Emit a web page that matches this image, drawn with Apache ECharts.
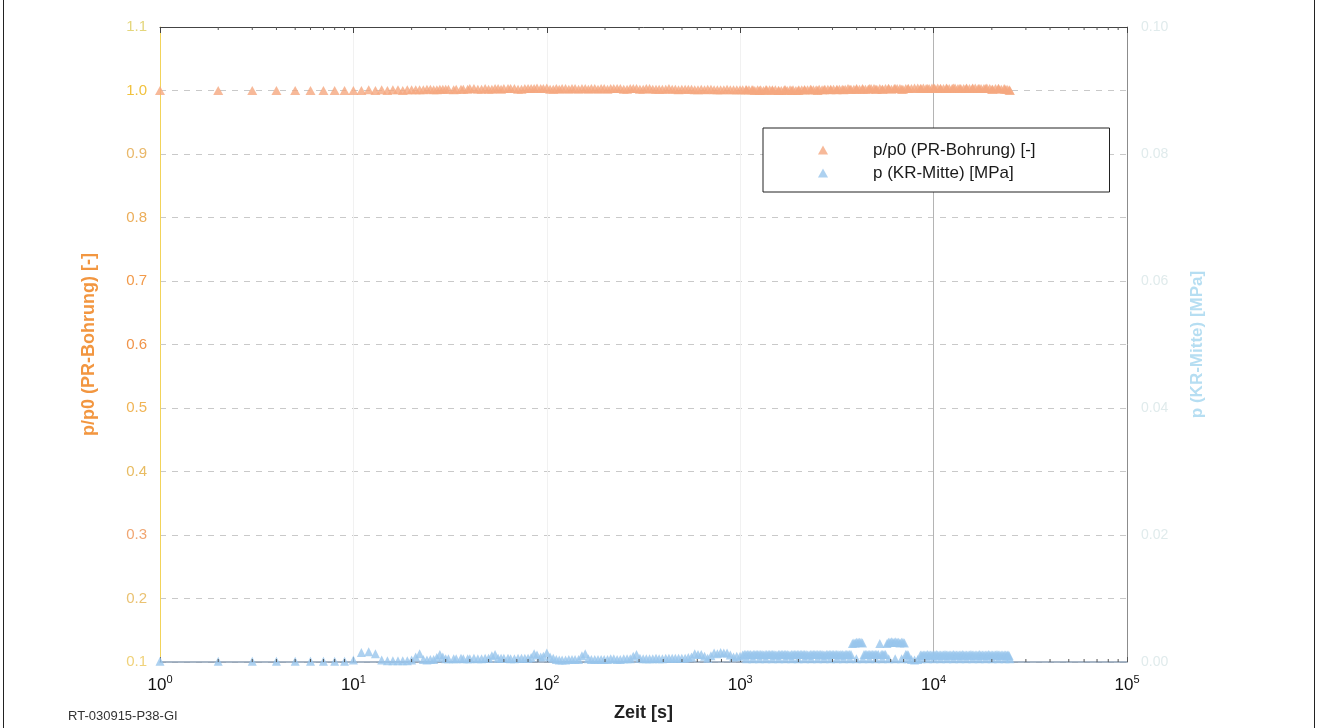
<!DOCTYPE html>
<html>
<head>
<meta charset="utf-8">
<title>p/p0 und p über Zeit</title>
<script src="https://cdn.jsdelivr.net/npm/echarts@6/dist/echarts.min.js"></script>
<style>
  html, body { margin: 0; padding: 0; background: #ffffff; }
  #chart { width: 1319px; height: 728px; }
</style>
</head>
<body>
<div id="chart"></div>
<script>
// Zeitstempel [s], Grundraster der Messung
const zeitA = [1,2,3,4,5,6,7,8,9,10,11,12,13,14,15,16,17,18,19,20,
  22,24,26,28,30,33,36,39,42,46,50,54,58,63,68,74,80,86,93,100,
  108,116,125,135,146,158,170,184,198,214,231,250,270,291,315,340,367,396,
  428,462,499,539,582,629,679,733,792,855,924,998,
  1078,1164,1257,1358,1466,1584,1710,1847,1995,
  2154,2327,2513,2714,2931,3166,3419,3692,3988,
  4307,4651,5023,5425,5859,6328,6834,7381,7971,
  8609,9298,10042,10845,11713,12650,13662,14755,15935,
  17210,18587,20074,21680,23414,24800];

// p/p0 (PR-Bohrung) [-] zu zeitA
const pRelA = [1.000,1.000,1.000,1.000,1.000,1.000,1.000,1.000,1.000,1.000,
  1.000,1.001,1.000,1.001,1.000,1.001,1.001,1.000,1.001,1.001,
  1.001,1.002,1.001,1.002,1.002,1.001,1.002,1.002,1.003,1.002,
  1.002,1.003,1.002,1.003,1.003,1.002,1.003,1.003,1.003,1.004,
  1.002,1.002,1.003,1.003,1.002,1.003,1.003,1.002,1.003,1.003,
  1.003,1.002,1.003,1.003,1.002,1.003,1.002,1.002,1.003,1.002,
  1.002,1.002,1.001,1.002,1.002,1.001,1.001,1.002,1.001,1.001,
  1.001,1.001,1.000,1.001,1.001,1.000,1.001,1.000,1.000,1.001,
  1.001,1.000,1.001,1.001,1.002,1.001,1.002,1.002,1.002,1.003,
  1.002,1.002,1.003,1.003,1.002,1.003,1.004,1.003,1.003,1.004,
  1.003,1.003,1.004,1.003,1.003,1.004,1.003,1.003,1.002,1.003,
  1.002,1.000];

// p (KR-Mitte) [MPa] zu zeitA
const pKRA = [0.0001,0.0001,0.0001,0.0001,0.0001,0.0001,0.0001,0.0001,0.0001,0.0003,
  0.0015,0.0016,0.0013,0.0003,0.0002,0.0002,0.0002,0.0002,0.0002,0.0003,
  0.0013,0.0003,0.0004,0.0012,0.0005,0.0005,0.0006,0.0005,0.0006,0.0005,
  0.0006,0.0012,0.0006,0.0006,0.0005,0.0006,0.0006,0.0013,0.0008,0.0014,
  0.0006,0.0003,0.0003,0.0004,0.0004,0.0013,0.0004,0.0004,0.0004,0.0005,
  0.0004,0.0005,0.0005,0.0012,0.0005,0.0005,0.0006,0.0005,0.0006,0.0006,
  0.0006,0.0007,0.0013,0.0012,0.0006,0.0014,0.0015,0.0014,0.0008,0.0009,
  0.0005,0.0005,0.0005,0.0005,0.0005,0.0005,0.0005,0.0005,0.0005,0.0005,
  0.0005,0.0005,0.0005,0.0005,0.0005,0.0005,0.0005,0.0005,0.0005,0.0005,
  0.0005,0.0005,0.0005,0.0005,0.0005,0.0005,0.0003,0.0005,0.0005,0.0005,
  0.0005,0.0005,0.0005,0.0005,0.0005,0.0005,0.0005,0.0005,0.0005,0.0005,
  0.0005,0.0005];

// Zwischenwerte (zeitB)
const zeitB = [21,23,25,27,29,31,34,37,40,44,48,52,56,60,65,71,77,83,89,96,
  104,112,120,130,140,152,164,177,191,206,222,240,260,280,303,327,353,381,412,445,
  480,519,560,605,654,706,762,823,889,960,7680,8280];
const pRelB = [1.001,1.001,1.002,1.001,1.002,1.002,1.002,1.002,1.003,1.002,
  1.003,1.002,1.003,1.003,1.003,1.002,1.003,1.003,1.004,1.003,
  1.002,1.003,1.003,1.002,1.003,1.003,1.002,1.003,1.003,1.002,
  1.003,1.003,1.002,1.003,1.002,1.003,1.002,1.002,1.002,1.002,
  1.001,1.002,1.002,1.001,1.001,1.002,1.001,1.001,1.001,1.001,
  1.003,1.004];
const pKRB = [0.0008,0.0004,0.0004,0.0007,0.0008,0.0005,0.0005,0.0005,0.0005,0.0005,
  0.0006,0.0010,0.0006,0.0006,0.0005,0.0006,0.0006,0.0007,0.0011,0.0009,
  0.0008,0.0004,0.0003,0.0004,0.0004,0.0010,0.0005,0.0004,0.0004,0.0004,
  0.0005,0.0004,0.0005,0.0009,0.0006,0.0005,0.0005,0.0005,0.0006,0.0006,
  0.0006,0.0006,0.0008,0.0012,0.0009,0.0010,0.0013,0.0014,0.0011,0.0009,
  0.0004,0.0004];

// dicht aufgezeichneter Abschnitt (zeitC)
const zeitC = [1030,1070,1110,1150,1190,1230,1275,1320,1370,1420,
  1470,1520,1575,1630,1690,1750,1810,1875,1940,2010,
  2080,2150,2230,2310,2390,2470,2560,2650,2740,2840,
  2940,3040,3150,3260,3370,3490,3610,3740,3870,4000,
  4140,4290,4440,4590,4750,4920,5090,5270,5450,5640,
  5840,6050,6260,6480,6700,6940,7180,7400,
  8550,8850,9150,9480,9810,10150,10500,10870,11250,11650,
  12050,12470,12910,13360,13830,14310,14810,15330,15870,16420,
  17000,17590,18210,18850,19510,20190,20900,21630,22380,23170,
  23980,24600];
const pRelC = [1.001,1.001,1.001,1.001,1.000,1.001,1.001,1.000,1.001,1.001,
  1.000,1.001,1.000,1.000,1.001,1.000,1.001,1.001,1.000,1.001,
  1.001,1.001,1.001,1.002,1.001,1.001,1.002,1.001,1.002,1.002,
  1.002,1.002,1.001,1.002,1.002,1.002,1.003,1.002,1.002,1.003,
  1.002,1.003,1.002,1.002,1.003,1.003,1.002,1.003,1.002,1.003,
  1.003,1.002,1.003,1.003,1.003,1.002,1.003,1.003,
  1.003,1.004,1.003,1.003,1.004,1.003,1.004,1.003,1.003,1.004,
  1.003,1.003,1.004,1.003,1.003,1.003,1.004,1.003,1.003,1.004,
  1.003,1.003,1.003,1.004,1.003,1.002,1.003,1.003,1.002,1.003,
  1.002,1.001];
const pKRC = [0.0011,0.0012,0.0012,0.0011,0.0012,0.0012,0.0012,0.0011,0.0012,0.0012,
  0.0012,0.0011,0.0012,0.0012,0.0012,0.0012,0.0011,0.0012,0.0012,0.0012,
  0.0012,0.0012,0.0011,0.0012,0.0012,0.0012,0.0012,0.0012,0.0011,0.0012,
  0.0012,0.0012,0.0012,0.0011,0.0012,0.0012,0.0012,0.0012,0.0030,0.0031,
  0.0031,0.0030,0.0012,0.0012,0.0012,0.0012,0.0012,0.0029,0.0012,0.0012,
  0.0031,0.0032,0.0031,0.0031,0.0030,0.0031,0.0012,0.0011,
  0.0011,0.0011,0.0011,0.0011,0.0011,0.0011,0.0011,0.0011,0.0011,0.0011,
  0.0011,0.0011,0.0011,0.0011,0.0011,0.0011,0.0011,0.0011,0.0011,0.0011,
  0.0011,0.0011,0.0011,0.0011,0.0011,0.0011,0.0011,0.0011,0.0011,0.0011,
  0.0011,0.0010];

// weitere Messpunkte von p (KR-Mitte) im dichten Abschnitt (zeitD)
const zeitD = [1050,1090,1130,1170,1210,1252,1297,1345,1395,1445,
  1495,1547,1602,1660,1720,1780,1842,1907,1975,2045,
  2115,2190,2270,2350,2430,2515,2605,2695,2790,2890,
  2990,3095,3205,3315,3430,3550,3675,3805,3935,4070,
  4215,4365,4515,4670,4835,5005,5180,5360,5545,5740,
  5945,6155,6370,6590,6820,7060,7290,
  8700,9000,9315,9645,9980,10325,10685,11060,11450,11850,
  12260,12690,13135,13595,14070,14560,15070,15600,16145,16710,
  17295,17900,18530,19180,19850,20545,21265,22005,22775,23575,
  24290];
const pKRD = [0.0012,0.0012,0.0012,0.0012,0.0012,0.0012,0.0012,0.0012,0.0012,0.0012,
  0.0012,0.0011,0.0012,0.0012,0.0012,0.0011,0.0012,0.0012,0.0012,0.0012,
  0.0012,0.0012,0.0011,0.0012,0.0012,0.0012,0.0012,0.0011,0.0012,0.0012,
  0.0012,0.0012,0.0012,0.0012,0.0011,0.0012,0.0012,0.0029,0.0030,0.0031,
  0.0031,0.0012,0.0012,0.0012,0.0012,0.0012,0.0012,0.0012,0.0012,0.0029,
  0.0031,0.0031,0.0032,0.0031,0.0031,0.0030,0.0012,
  0.0011,0.0011,0.0012,0.0011,0.0011,0.0012,0.0011,0.0011,0.0012,0.0011,
  0.0011,0.0012,0.0011,0.0011,0.0012,0.0011,0.0011,0.0012,0.0011,0.0011,
  0.0012,0.0011,0.0011,0.0012,0.0011,0.0011,0.0012,0.0011,0.0011,0.0011,
  0.0011];

const nameRel = 'p/p0 (PR-Bohrung) [-]';
const nameKR = 'p (KR-Mitte) [MPa]';
const font = 'Liberation Sans, Arial, sans-serif';

// Farben der linken Achsenbeschriftung
const leftLabelColors = {
  '1.1': '#e4d67c', '1.0': '#f1c23e', '0.9': '#e9b86a', '0.8': '#ecae5a',
  '0.7': '#f29a4a', '0.6': '#f0944a', '0.5': '#f0b455', '0.4': '#e8bc62',
  '0.3': '#f0a672', '0.2': '#eac272', '0.1': '#f0d27a'
};

// Nebenteilstriche 2..9 je Dekade der logarithmischen Zeitachse
const minorTicks = [];
for (let d = 1; d < 100000; d *= 10) {
  for (let k = 2; k <= 9; k++) minorTicks.push(d * k);
}

const pairs = (ts, vs) => ts.map((t, i) => [t, vs[i]]);
const relData = pairs(zeitA, pRelA).concat(pairs(zeitB, pRelB), pairs(zeitC, pRelC));
const krData = pairs(zeitA, pKRA).concat(pairs(zeitB, pKRB), pairs(zeitC, pKRC), pairs(zeitD, pKRD));

const chart = echarts.init(document.getElementById('chart'), null, { renderer: 'canvas' });

chart.setOption({
  animation: false,
  backgroundColor: '#ffffff',
  textStyle: { fontFamily: font },
  grid: { left: 160, right: 192, top: 27, bottom: 66, containLabel: false },
  legend: {
    data: [nameRel, nameKR],
    orient: 'vertical',
    left: 763,
    top: 128,
    padding: [12, 74, 9, 55],
    itemWidth: 10,
    itemHeight: 9,
    itemGap: 3,
    backgroundColor: '#ffffff',
    borderColor: '#222222',
    borderWidth: 1,
    borderRadius: 0,
    textStyle: { fontFamily: font, fontSize: 17, color: '#1a1a1a', lineHeight: 20, padding: [0, 0, 0, 40] }
  },
  xAxis: [
    {
      type: 'log',
      logBase: 10,
      min: 1,
      max: 100000,
      position: 'bottom',
      name: 'Zeit [s]',
      nameLocation: 'middle',
      nameGap: 42,
      nameTextStyle: { fontFamily: font, fontSize: 18, fontWeight: 'bold', color: '#222222' },
      axisLine: { show: true, lineStyle: { color: '#8a9db2', width: 1.5 } },
      axisTick: { show: true, inside: true, length: 5, lineStyle: { color: '#555555' } },
      axisLabel: {
        margin: 12,
        color: '#111111',
        fontSize: 17,
        formatter: function (v) {
          const e = Math.round(Math.log10(v));
          return '{b|10}{s|' + e + '}';
        },
        rich: {
          b: { fontSize: 17, color: '#111111', lineHeight: 22, fontFamily: font },
          s: { fontSize: 11, color: '#111111', verticalAlign: 'top', lineHeight: 22, fontFamily: font }
        }
      },
      splitLine: {
        show: true,
        lineStyle: { color: ['#f1f1f1', '#f1f1f1', '#f1f1f1', '#f1f1f1', '#b4b4b4', '#f1f1f1'], width: 1 }
      }
    },
    {
      type: 'log',
      logBase: 10,
      min: 1,
      max: 100000,
      position: 'top',
      axisLine: { show: true, lineStyle: { color: '#444444', width: 1 } },
      axisTick: { show: true, inside: true, length: 6, lineStyle: { color: '#444444' } },
      axisLabel: { show: false },
      splitLine: { show: false }
    }
  ],
  yAxis: [
    {
      type: 'value',
      min: 0.1,
      max: 1.1,
      interval: 0.1,
      position: 'left',
      name: nameRel,
      nameLocation: 'middle',
      nameRotate: 90,
      nameGap: 62,
      nameTextStyle: { fontFamily: font, fontSize: 18, fontWeight: 'bold', color: '#f29640' },
      axisLine: { show: true, lineStyle: { color: '#f2d35a', width: 1 } },
      axisTick: { show: false },
      axisLabel: {
        margin: 13,
        fontSize: 15,
        formatter: v => v.toFixed(1),
        color: v => leftLabelColors[Number(v).toFixed(1)] || '#f0aa50'
      },
      splitLine: { show: true, lineStyle: { color: '#c9c9c9', type: [6, 6], width: 1 } }
    },
    {
      type: 'value',
      min: 0,
      max: 0.1,
      interval: 0.02,
      position: 'right',
      name: nameKR,
      nameLocation: 'middle',
      nameRotate: 90,
      nameGap: 62,
      nameTextStyle: { fontFamily: font, fontSize: 17, fontWeight: 'bold', color: '#b6def2' },
      axisLine: { show: true, lineStyle: { color: '#8c8c8c', width: 1 } },
      axisTick: { show: false },
      axisLabel: { margin: 14, fontSize: 14, color: '#e0ebec', formatter: v => v.toFixed(2) },
      splitLine: { show: false }
    }
  ],
  series: [
    {
      name: nameKR,
      type: 'scatter',
      xAxisIndex: 0,
      yAxisIndex: 1,
      symbol: 'triangle',
      symbolSize: [9, 9],
      itemStyle: { color: '#98c6ec' },
      data: krData,
      z: 3
    },
    {
      name: nameRel,
      type: 'scatter',
      xAxisIndex: 0,
      yAxisIndex: 0,
      symbol: 'triangle',
      symbolSize: [10, 9],
      itemStyle: { color: '#f5a780' },
      data: relData,
      z: 4
    },
    {
      name: 'minorTicks',
      type: 'custom',
      xAxisIndex: 0,
      yAxisIndex: 0,
      silent: true,
      z: 6,
      data: minorTicks.map(v => [v]),
      encode: { x: 0 },
      renderItem: function (params, api) {
        const v = api.value(0);
        const top = api.coord([v, 1.1]);
        const bot = api.coord([v, 0.1]);
        const style = { stroke: '#555555', lineWidth: 1 };
        return {
          type: 'group',
          children: [
            { type: 'line', shape: { x1: top[0], y1: top[1], x2: top[0], y2: top[1] + 3 }, style: style },
            { type: 'line', shape: { x1: bot[0], y1: bot[1], x2: bot[0], y2: bot[1] - 3 }, style: style }
          ]
        };
      }
    }
  ],
  graphic: [
    { type: 'line', shape: { x1: 3.5, y1: 0, x2: 3.5, y2: 728 }, style: { stroke: '#222222', lineWidth: 1 } },
    { type: 'line', shape: { x1: 1314.5, y1: 0, x2: 1314.5, y2: 728 }, style: { stroke: '#222222', lineWidth: 1 } },
    {
      type: 'text', left: 68, top: 710,
      style: { text: 'RT-030915-P38-GI', fontFamily: font, fontSize: 13, fill: '#333333' }
    }
  ]
});
</script>
</body>
</html>
